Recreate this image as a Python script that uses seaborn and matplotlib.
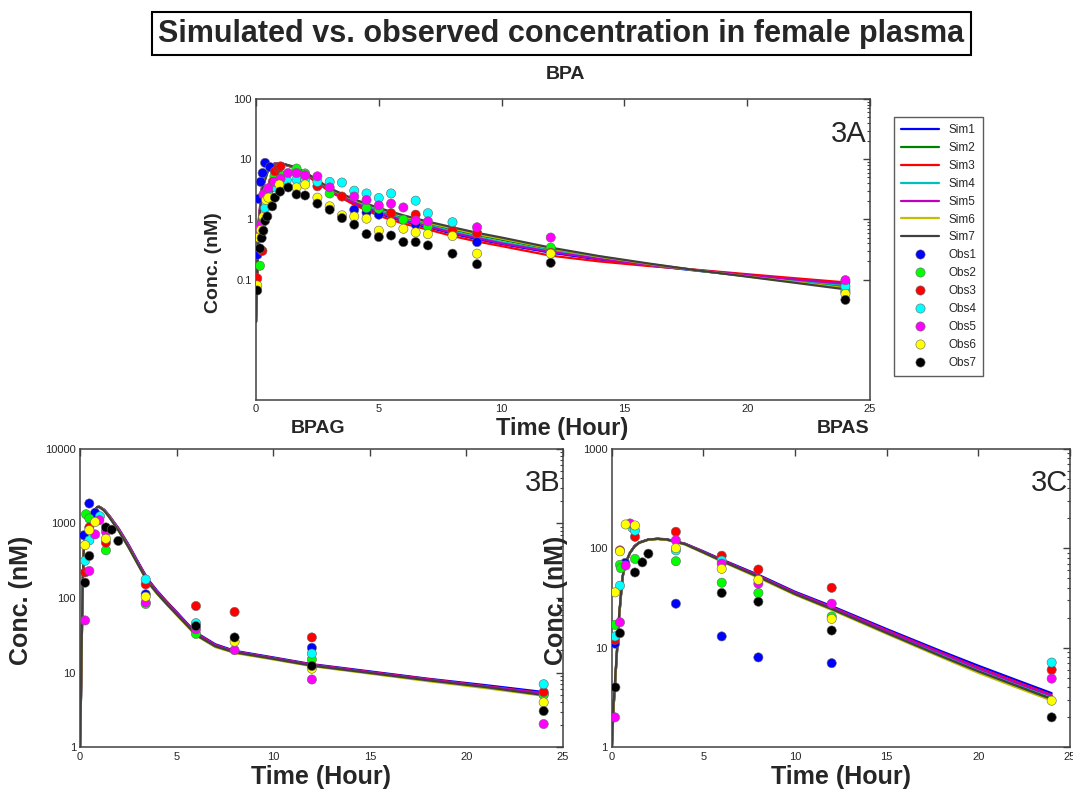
import numpy as np
import pandas as pd
import matplotlib
matplotlib.use('Agg')
import matplotlib.pyplot as plt
import seaborn as sns
from matplotlib.ticker import FixedLocator, NullFormatter

sim_names = ['Sim1', 'Sim2', 'Sim3', 'Sim4', 'Sim5', 'Sim6', 'Sim7']
obs_names = ['Obs1', 'Obs2', 'Obs3', 'Obs4', 'Obs5', 'Obs6', 'Obs7']
sim_colors = ['#0000ff', '#008000', '#ff0000', '#00bfbf', '#bf00bf', '#bfbf00', '#404040']
obs_colors = ['#0000ff', '#00ff00', '#ff0000', '#00ffff', '#ff00ff', '#ffff00', '#000000']

# ---- 3A  BPA ----
t_sim_a = [0, 0.1, 0.25, 0.5, 0.75, 1, 1.5, 2, 3, 4, 5, 6, 7, 8, 9, 10, 12, 14, 16, 18, 20, 22, 24]
sim_a = [
    [0.02, 0.8, 3.5, 7.0, 8.4, 8.6, 7.4, 5.8, 3.0, 1.85, 1.25, 0.93, 0.74, 0.58, 0.47, 0.39, 0.28, 0.215, 0.172, 0.14, 0.115, 0.096, 0.08],
    [0.02, 0.75, 3.4, 6.9, 8.3, 8.6, 7.5, 6.0, 3.2, 2.05, 1.45, 1.08, 0.85, 0.68, 0.55, 0.46, 0.32, 0.235, 0.18, 0.142, 0.114, 0.092, 0.075],
    [0.02, 0.9, 3.8, 7.2, 8.5, 8.6, 7.3, 5.6, 2.9, 1.75, 1.15, 0.85, 0.68, 0.53, 0.43, 0.36, 0.25, 0.2, 0.168, 0.145, 0.123, 0.105, 0.09],
    [0.02, 0.8, 3.5, 7.0, 8.4, 8.6, 7.4, 5.9, 3.1, 1.95, 1.35, 1.0, 0.8, 0.63, 0.51, 0.42, 0.3, 0.225, 0.176, 0.141, 0.116, 0.097, 0.081],
    [0.02, 0.85, 3.6, 7.1, 8.4, 8.6, 7.4, 5.8, 3.05, 1.9, 1.3, 0.96, 0.77, 0.6, 0.49, 0.4, 0.29, 0.22, 0.175, 0.143, 0.119, 0.1, 0.085],
    [0.02, 0.72, 3.3, 6.8, 8.3, 8.6, 7.5, 6.05, 3.25, 2.1, 1.5, 1.12, 0.88, 0.71, 0.57, 0.48, 0.33, 0.24, 0.182, 0.142, 0.113, 0.09, 0.072],
    [0.02, 0.7, 3.2, 6.6, 8.2, 8.6, 7.6, 6.1, 3.3, 2.15, 1.55, 1.17, 0.92, 0.74, 0.6, 0.5, 0.34, 0.245, 0.185, 0.142, 0.112, 0.088, 0.069],
]
obs_a_t = [
    [0.06, 0.1, 0.19, 0.27, 0.37, 0.57, 4.0, 4.5, 5.0, 6.5, 9.0, 12.0, 24.0],
    [0.16, 0.3, 0.5, 0.75, 1.0, 1.65, 2.0, 3.0, 4.5, 5.0, 6.0, 7.0, 9.0, 12.0, 24.0],
    [0.05, 0.26, 0.45, 0.57, 0.68, 0.77, 0.91, 1.0, 2.5, 3.5, 5.5, 6.5, 8.0, 9.0, 12.0, 24.0],
    [0.37, 0.5, 0.75, 1.0, 1.25, 1.65, 2.0, 2.5, 3.0, 3.5, 4.0, 4.5, 5.0, 5.5, 6.5, 7.0, 8.0, 24.0],
    [0.1, 0.23, 0.3, 0.5, 0.75, 1.0, 1.31, 1.65, 2.0, 2.5, 3.0, 4.0, 4.5, 5.0, 5.5, 6.0, 6.5, 7.0, 9.0, 12.0, 24.0],
    [0.05, 0.1, 0.2, 0.3, 0.41, 0.5, 0.95, 1.65, 2.0, 2.5, 3.0, 3.5, 4.0, 4.5, 5.0, 5.5, 6.0, 6.5, 7.0, 8.0, 9.0, 12.0, 24.0],
    [0.05, 0.16, 0.23, 0.3, 0.37, 0.46, 0.66, 0.77, 0.98, 1.31, 1.65, 2.0, 2.5, 3.0, 3.5, 4.0, 4.5, 5.0, 5.5, 6.0, 6.5, 7.0, 8.0, 9.0, 12.0, 24.0],
]
obs_a_c = [
    [0.26, 2.2, 4.2, 5.9, 8.7, 7.4, 1.45, 1.3, 1.2, 0.82, 0.42, 0.3, 0.062],
    [0.17, 1.0, 2.8, 5.2, 5.5, 7.0, 5.8, 2.7, 1.55, 1.5, 0.99, 0.76, 0.59, 0.34, 0.068],
    [0.105, 0.3, 2.5, 3.3, 4.2, 6.3, 7.2, 7.6, 3.55, 2.4, 1.27, 1.2, 0.66, 0.59, 0.28, 0.09],
    [1.55, 2.5, 3.5, 4.0, 4.5, 4.6, 4.6, 4.2, 4.2, 4.1, 3.0, 2.7, 2.27, 2.7, 2.05, 1.27, 0.9, 0.077],
    [0.7, 0.84, 2.6, 3.3, 4.2, 4.75, 5.9, 5.9, 5.4, 5.2, 3.4, 2.4, 2.1, 1.71, 1.83, 1.58, 0.96, 0.93, 0.74, 0.5, 0.098],
    [0.08, 0.5, 0.67, 1.1, 2.1, 2.3, 3.8, 3.4, 3.8, 2.3, 1.65, 1.17, 1.12, 1.03, 0.65, 0.89, 0.7, 0.61, 0.57, 0.53, 0.27, 0.27, 0.058],
    [0.066, 0.33, 0.49, 0.65, 0.95, 1.12, 1.65, 2.3, 2.9, 3.4, 2.6, 2.5, 1.83, 1.45, 1.05, 0.82, 0.57, 0.51, 0.54, 0.42, 0.42, 0.37, 0.27, 0.18, 0.19, 0.046],
]

# ---- 3B  BPAG ----
t_sim_b = [0.0, 0.05, 0.1, 0.15, 0.2, 0.3, 0.5, 0.75, 0.9, 1.0, 1.25, 1.5, 2.0, 2.5, 3.0, 3.5, 4.0, 4.5, 5.0, 5.5, 6.0, 7.0, 8.0, 10.0, 12.0, 15.0, 18.0, 21.0, 24.0]
sim_b = [
    [1.0, 5, 38, 190, 440, 740, 1140, 1490, 1640, 1665, 1520, 1280, 850, 525, 305, 180, 124, 89, 65, 47, 34.5, 24, 19.6, 16, 13.0, 10.4, 8.3, 6.8, 5.5],
    [1.0, 5, 40, 200, 450, 750, 1150, 1500, 1650, 1660, 1500, 1250, 825, 505, 292, 172, 119, 86, 62, 45, 33, 23, 19, 15.5, 12.6, 10, 8, 6.5, 5.1],
    [1.0, 5, 39, 195, 445, 745, 1145, 1495, 1645, 1662, 1510, 1265, 835, 512, 298, 176, 121, 87, 64, 46, 33.8, 23.5, 19.2, 15.7, 12.8, 10.2, 8.2, 6.6, 5.3],
    [1.0, 5, 40, 200, 450, 750, 1150, 1500, 1650, 1660, 1500, 1255, 822, 503, 292, 171, 119, 85, 62, 45, 33, 23, 19, 15.5, 12.6, 10, 8, 6.5, 5.2],
    [1.0, 5, 40, 198, 448, 748, 1148, 1498, 1648, 1660, 1505, 1258, 828, 506, 294, 173, 120, 86, 63, 45.5, 33.4, 23.2, 19.1, 15.6, 12.7, 10.1, 8.1, 6.55, 5.25],
    [1.0, 5, 42, 205, 455, 755, 1155, 1505, 1650, 1655, 1480, 1225, 795, 480, 278, 162, 112, 81, 59, 43, 31.5, 22, 18.3, 15, 12.2, 9.7, 7.7, 6.2, 4.9],
    [1.0, 6, 45, 215, 470, 770, 1170, 1520, 1660, 1650, 1470, 1215, 790, 480, 280, 165, 114, 82, 60, 44, 32, 22.5, 18.7, 15.3, 12.4, 9.9, 7.9, 6.4, 5.0],
]
obs_b_t = [
    [0.2, 0.48, 0.78, 3.4, 12.0, 24.0],
    [0.31, 0.48, 1.34, 3.4, 6.0, 12.0, 24.0],
    [0.26, 0.48, 1.34, 3.4, 6.0, 8.0, 12.0, 24.0],
    [0.26, 0.48, 1.03, 3.4, 6.0, 12.0, 24.0],
    [0.26, 0.48, 0.78, 1.0, 1.34, 3.4, 6.0, 8.0, 12.0, 24.0],
    [0.26, 0.48, 0.78, 1.34, 3.4, 8.0, 12.0, 24.0],
    [0.26, 0.48, 1.34, 1.64, 1.98, 6.0, 8.0, 12.0, 24.0],
]
obs_b_c = [
    [690, 1840, 1380, 112, 21.5, 5.2],
    [1320, 1160, 435, 83, 33, 15, 5.0],
    [220, 880, 550, 152, 78, 65, 29.6, 5.5],
    [315, 590, 1240, 177, 46, 18, 7.0],
    [50, 230, 710, 1100, 770, 87, 38, 20, 8.1, 2.05],
    [510, 810, 1040, 620, 104, 26, 11.3, 4.0],
    [160, 365, 880, 820, 580, 42, 29.6, 12.3, 3.06],
]

# ---- 3C  BPAS ----
t_sim_c = [0.0, 0.05, 0.1, 0.2, 0.3, 0.4, 0.5, 0.6, 0.75, 1.0, 1.25, 1.5, 2.0, 2.5, 3.0, 4.0, 5.0, 6.0, 8.0, 10.0, 12.0, 15.0, 18.0, 20.0, 22.0, 24.0]
sim_c = [
    [0.9, 1.5, 2.5, 5, 10, 20, 33, 52, 70, 90, 105, 114, 122, 124.5, 123, 111, 93, 77, 54, 36.5, 26.2, 15.4, 9.2, 6.6, 4.8, 3.5],
    [0.9, 1.5, 2.5, 5, 10, 20, 33, 52, 70, 90, 105, 114, 122, 124, 122, 110, 91, 75, 52, 35, 24.8, 14.3, 8.3, 5.8, 4.25, 3.1],
    [0.9, 1.5, 2.5, 5, 10, 20, 33, 52, 70, 90, 105, 114, 122, 124, 122, 110.5, 92, 76, 53, 35.8, 25.6, 15.0, 8.9, 6.3, 4.6, 3.35],
    [0.9, 1.5, 2.5, 5, 10, 20, 33, 52, 70, 90, 105, 114, 122, 124, 122, 110, 91, 75, 52.3, 35.3, 25.2, 14.7, 8.6, 6.1, 4.45, 3.25],
    [0.9, 1.5, 2.5, 5, 10, 20, 33, 52, 70, 90, 105, 114, 122, 124, 122, 110, 91.5, 75.5, 52.6, 35.5, 25.4, 14.8, 8.8, 6.2, 4.5, 3.3],
    [0.9, 1.5, 2.5, 5, 10, 20, 33, 52, 70, 90, 104, 113, 121, 123.5, 121, 108.5, 89.5, 73.5, 50.5, 34, 24, 13.8, 8.0, 5.6, 4.05, 2.95],
    [0.9, 1.6, 2.7, 5.3, 10.5, 21, 34, 53, 71, 90, 104, 113, 122, 124, 122, 109.5, 90.5, 74.5, 51.5, 34.6, 24.5, 14.1, 8.2, 5.8, 4.2, 3.05],
]
obs_c_t = [
    [0.18, 0.73, 3.5, 6.0, 8.0, 12.0],
    [0.18, 0.45, 0.5, 1.27, 3.5, 6.0, 8.0, 12.0],
    [0.18, 0.45, 1.27, 3.5, 6.0, 8.0, 12.0, 24.0],
    [0.18, 0.45, 1.13, 1.27, 3.5, 6.0, 24.0],
    [0.18, 0.45, 0.76, 1.0, 3.5, 6.0, 8.0, 12.0, 24.0],
    [0.18, 0.45, 0.76, 1.27, 3.5, 6.0, 8.0, 12.0, 24.0],
    [0.2, 0.45, 1.27, 1.67, 2.0, 6.0, 8.0, 12.0, 24.0],
]
obs_c_c = [
    [11, 71, 27.7, 13, 8, 7],
    [17, 68, 63, 78, 74, 45, 35.5, 20.6],
    [12, 95, 130, 146, 84, 61, 40, 6.0],
    [13, 42, 160, 150, 95, 75, 7.1],
    [2, 18, 67, 177, 120, 70, 44, 27.7, 4.9],
    [36, 93, 173, 169, 100, 62, 48, 19.5, 2.94],
    [4, 14, 57, 72, 88, 35.5, 29, 14.9, 2.0],
]


def sim_frame(t, sims):
    rows = []
    for name, vals in zip(sim_names, sims):
        rows.append(pd.DataFrame({'t': t, 'conc': vals, 'curve': name}))
    return pd.concat(rows, ignore_index=True)


def obs_frame(ts, cs):
    rows = []
    for name, t, c in zip(obs_names, ts, cs):
        rows.append(pd.DataFrame({'t': t, 'conc': c, 'subject': name}))
    return pd.concat(rows, ignore_index=True)


sns.set_style('white')
plt.rcParams['font.family'] = ['Liberation Sans', 'DejaVu Sans']
plt.rcParams['axes.edgecolor'] = '#404040'
plt.rcParams['axes.linewidth'] = 1.1

fig = plt.figure(figsize=(10.73, 7.91), dpi=100)
ax_a = fig.add_axes([0.2386, 0.4943, 0.5722, 0.3805])
ax_b = fig.add_axes([0.0746, 0.0552, 0.4501, 0.3777])
ax_c = fig.add_axes([0.5701, 0.0552, 0.4271, 0.3777])

panels = [
    (ax_a, t_sim_a, sim_a, obs_a_t, obs_a_c),
    (ax_b, t_sim_b, sim_b, obs_b_t, obs_b_c),
    (ax_c, t_sim_c, sim_c, obs_c_t, obs_c_c),
]
for ax, ts, sims, ot, oc in panels:
    sns.lineplot(data=sim_frame(ts, sims), x='t', y='conc', hue='curve',
                 palette=sim_colors, estimator=None, sort=False, lw=1.6, ax=ax)
    sns.scatterplot(data=obs_frame(ot, oc), x='t', y='conc', hue='subject',
                    palette=obs_colors, s=44, edgecolor='#666666', linewidth=0.4,
                    zorder=5, ax=ax)

handles, labels = ax_a.get_legend_handles_labels()
for ax in (ax_a, ax_b, ax_c):
    ax.get_legend().remove()

ylims = [(0.001, 100), (1, 10000), (1, 1000)]
ymajors = [[0.1, 1, 10, 100], [1, 10, 100, 1000, 10000], [1, 10, 100, 1000]]
ylabels_txt = [['0.1', '1', '10', '100'], ['1', '10', '100', '1000', '10000'], ['1', '10', '100', '1000']]
for ax, lim, maj, lab in zip((ax_a, ax_b, ax_c), ylims, ymajors, ylabels_txt):
    ax.set_yscale('log')
    ax.set_ylim(*lim)
    ax.set_xlim(0, 25)
    ax.set_xticks([0, 5, 10, 15, 20, 25])
    ax.set_xticklabels(['0', '5', '10', '15', '20', '25'])
    ax.set_yticks(maj)
    ax.set_yticklabels(lab)
    minors = [m * d for d in maj[:-1] for m in range(2, 10)]
    ax.yaxis.set_minor_locator(FixedLocator(minors))
    ax.yaxis.set_minor_formatter(NullFormatter())
    ax.tick_params(which='both', direction='in', top=True, right=True,
                   color='#404040', labelsize=8, pad=3)
    ax.tick_params(which='major', length=5, width=1)
    ax.tick_params(which='minor', length=2.5, width=0.8)
    ax.set_xlabel('Time (Hour)', fontsize=18, fontweight='bold')
    ax.set_ylabel('Conc. (nM)', fontsize=18, fontweight='bold')
    ax.text(0.995, 0.885, '3' + 'ABC'[[ax_a, ax_b, ax_c].index(ax)],
            transform=ax.transAxes, ha='right', va='center', fontsize=21)

ax_a.set_ylabel('Conc. (nM)', fontsize=14, fontweight='bold')
ax_a.set_xlabel('Time (Hour)', fontsize=17, fontweight='bold')
ax_a.yaxis.set_label_coords(-0.055, 0.455)
ax_a.xaxis.set_label_coords(0.498, -0.058)
ax_b.yaxis.set_label_coords(-0.097, 0.493)
ax_b.xaxis.set_label_coords(0.498, -0.06)
ax_c.yaxis.set_label_coords(-0.095, 0.493)
ax_c.xaxis.set_label_coords(0.5, -0.06)

fig.text(0.5233, 0.9576, 'Simulated vs. observed concentration in female plasma',
         ha='center', va='center', fontsize=22, fontweight='bold',
         bbox=dict(boxstyle='square,pad=0.2', fc='white', ec='black', lw=1.5))
fig.text(0.5266, 0.9052, 'BPA', ha='center', va='center', fontsize=14, fontweight='bold')
fig.text(0.2964, 0.4589, 'BPAG', ha='center', va='center', fontsize=14, fontweight='bold')
fig.text(0.7857, 0.4589, 'BPAS', ha='center', va='center', fontsize=14, fontweight='bold')

leg = fig.legend(handles, labels, loc='upper left', bbox_to_anchor=(0.8332, 0.8521),
                 fontsize=8.5, frameon=True, fancybox=False, edgecolor='#333333',
                 handlelength=3.2, labelspacing=0.5, borderaxespad=0, borderpad=0.6)
leg.get_frame().set_linewidth(1.0)

fig.savefig('out.png', dpi=100)
